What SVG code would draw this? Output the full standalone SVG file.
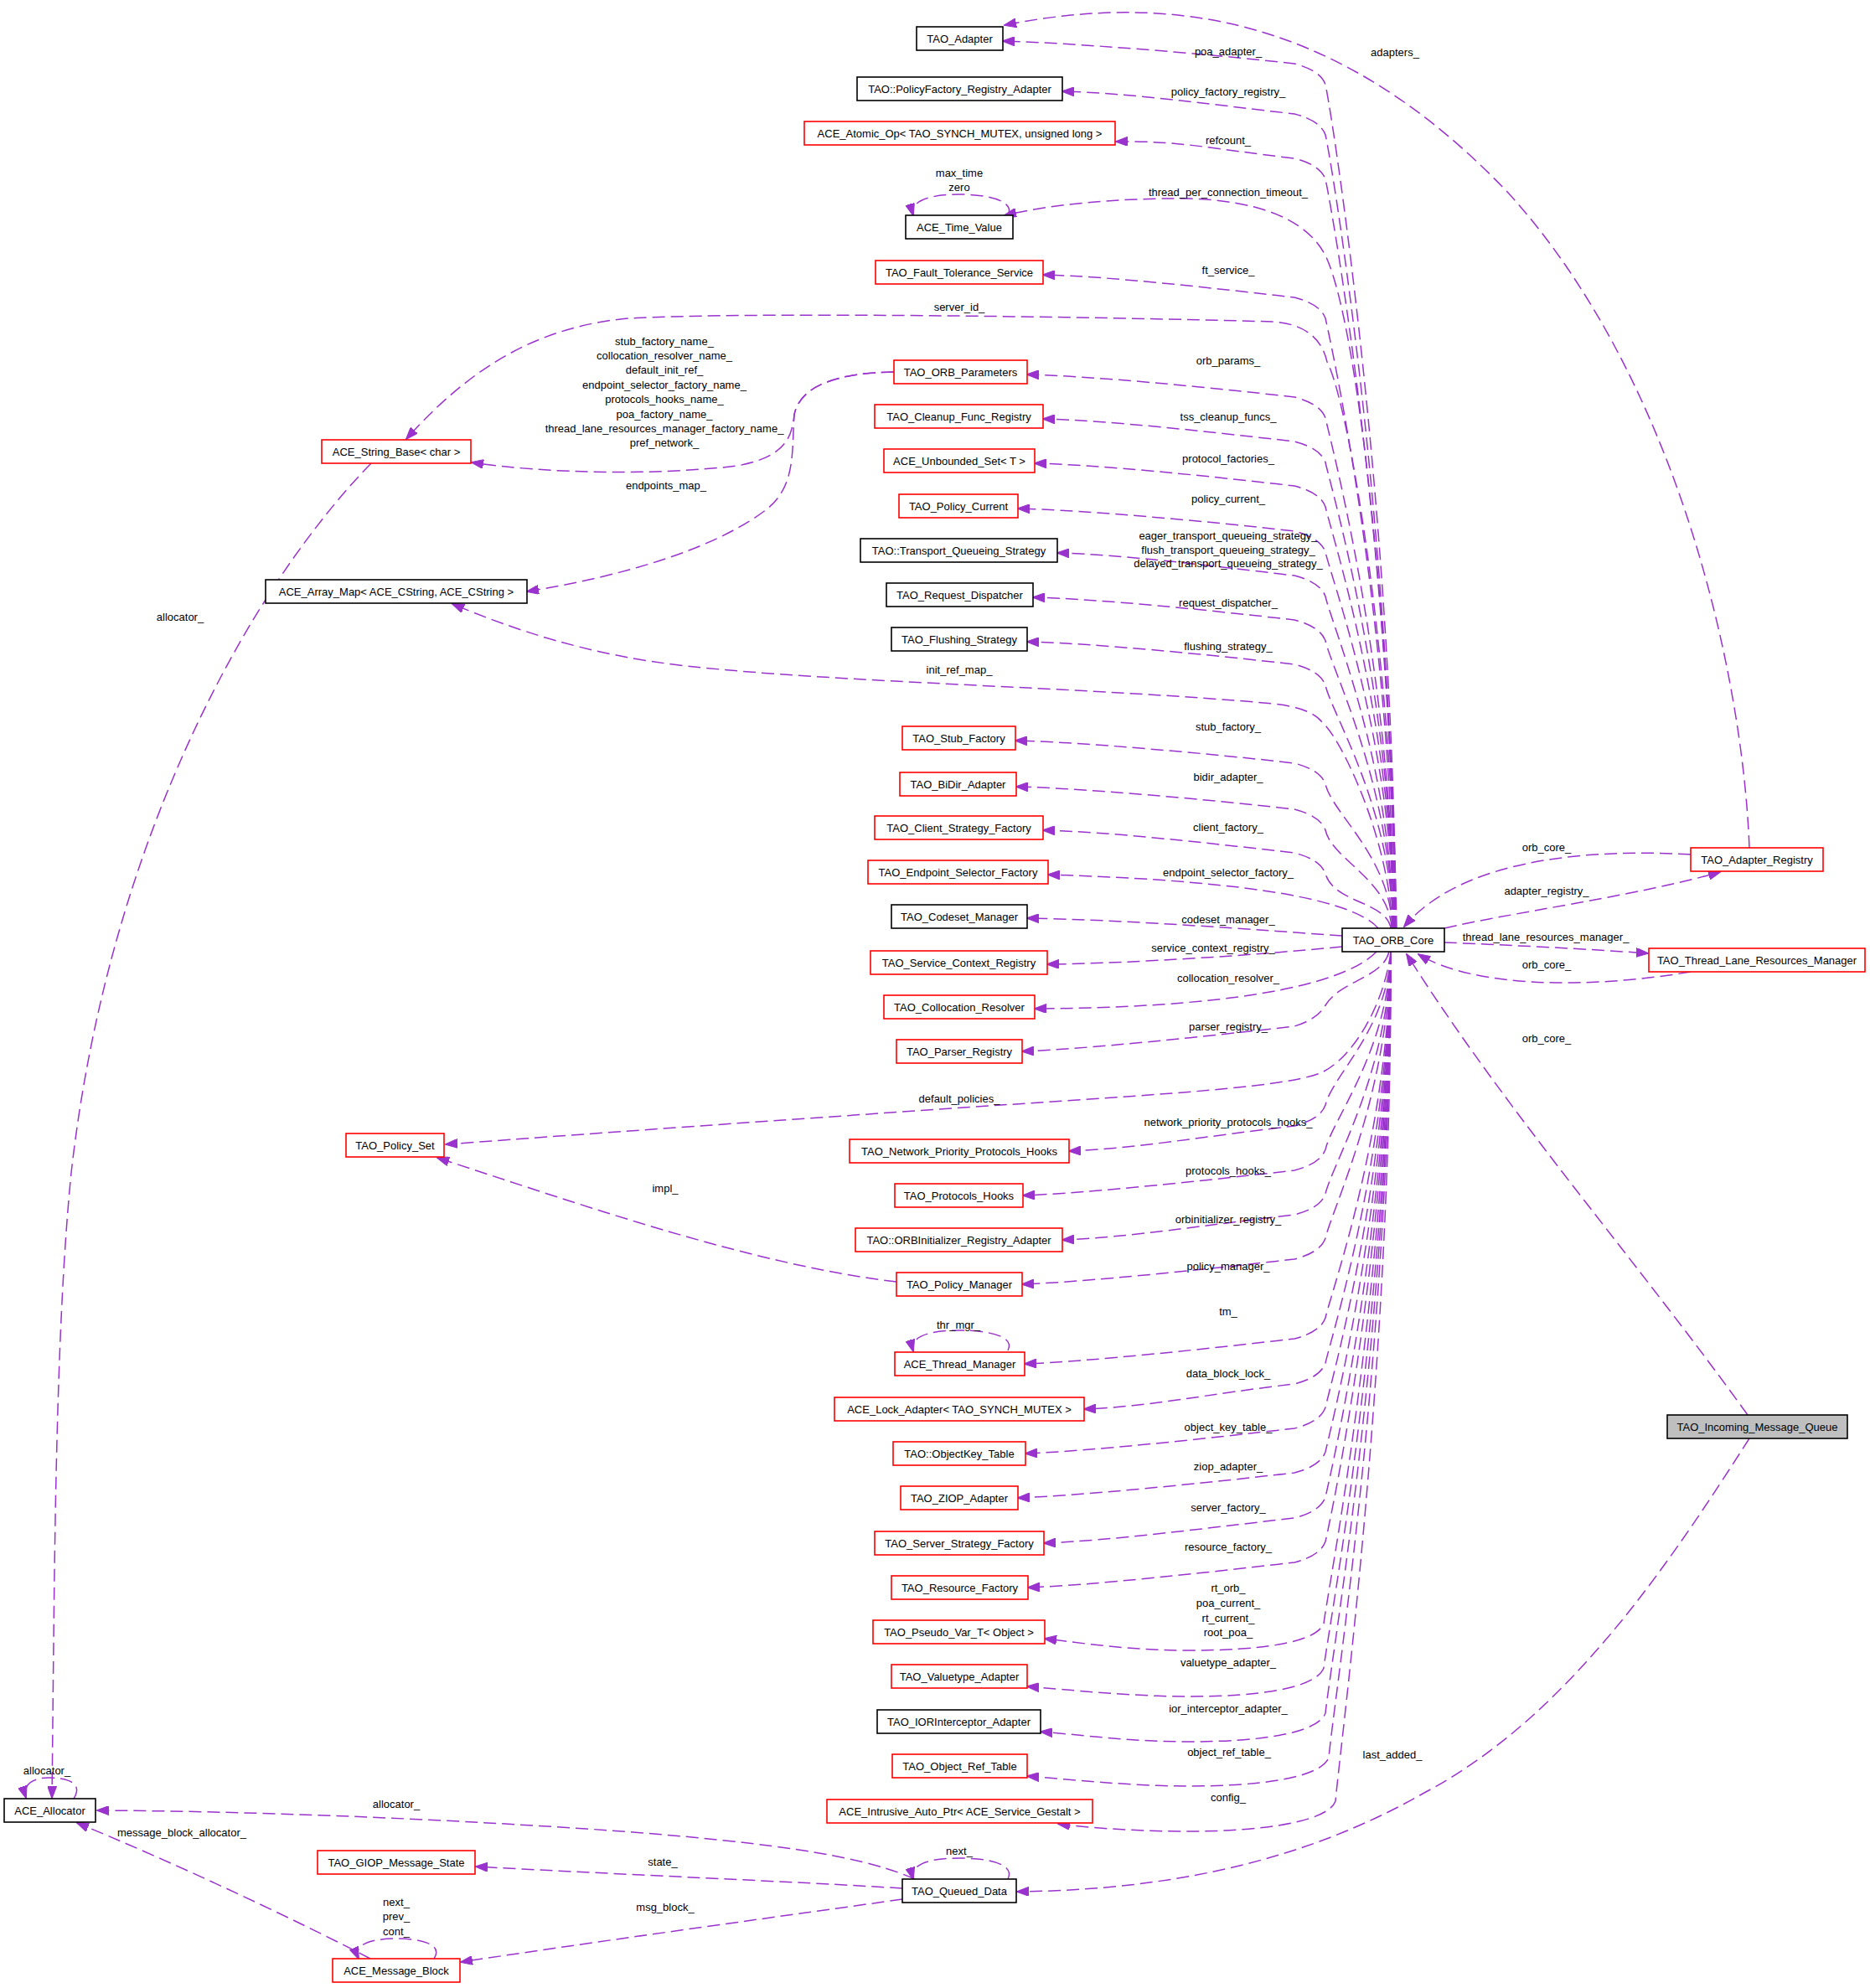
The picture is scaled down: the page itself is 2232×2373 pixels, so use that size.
<svg xmlns="http://www.w3.org/2000/svg" width="2232" height="2373" viewBox="0 0 2232 2373">
<style>
.n rect{fill:#ffffff;stroke-width:1.6}
.r rect{stroke:#ff0000}
.b rect{stroke:#000000}
.g rect{fill:#bfbfbf;stroke:#000000}
text{font-family:"Liberation Sans",Arial,sans-serif;font-size:13px;fill:#000000}
.n text{text-anchor:middle}
.e path{fill:none;stroke:#9a32cd;stroke-width:1.5;stroke-dasharray:15,7;marker-end:url(#ah)}
.e text{text-anchor:middle}
</style>
<defs>
<marker id="ah" markerUnits="userSpaceOnUse" markerWidth="15" markerHeight="11" viewBox="0 0 15 11" refX="14" refY="5.5" orient="auto">
<path d="M0,0 L15,5.5 L0,11 z" fill="#9a32cd" stroke="#9a32cd" stroke-width="1"/>
</marker>
</defs>
<rect width="2232" height="2373" fill="#ffffff"/>
<g id="connectors" class="e">
<path d="M1666,1108 C1663,605 1590,136 1582,101 Q1576,84 1545,76 C1440,64 1277,51 1197,49"/>
<path d="M1665,1108 C1662,635 1590,196 1582,161 Q1576,144 1545,136 C1440,124 1348,111 1268,109"/>
<path d="M1665,1108 C1662,661 1590,249 1582,214 Q1576,197 1545,189 C1440,177 1411,168 1332,169"/>
<path d="M1667,1108 C1662,800 1625,400 1583,307 C1560,260 1500,240 1420,237 C1330,236 1250,245 1199,257"/>
<path d="M1203,257 C1212,240 1180,232 1145,232 C1110,232 1085,240 1090,257"/>
<path d="M1664,1108 C1661,744 1590,415 1582,380 Q1576,363 1545,355 C1440,343 1325,330 1245,328"/>
<path d="M1666,1108 C1663,800 1610,480 1584,432 Q1574,388 1520,384 C1300,378 900,372 750,380 C640,390 560,440 485,524"/>
<path d="M1664,1108 C1661,804 1590,534 1582,499 Q1576,482 1545,474 C1440,462 1306,449 1226,447"/>
<path d="M1067,444 C1000,445 955,460 948,495 C945,520 940,545 880,556 C780,568 650,565 563,552"/>
<path d="M1067,444 C1000,445 955,460 948,495 C945,540 950,580 915,608 C860,650 760,685 629,706"/>
<path d="M1664,1108 C1661,830 1590,587 1582,552 Q1576,535 1545,527 C1440,515 1325,502 1245,500"/>
<path d="M1664,1108 C1661,857 1590,640 1582,605 Q1576,588 1545,580 C1440,568 1315,555 1235,553"/>
<path d="M1664,1108 C1661,884 1590,694 1582,659 Q1576,642 1545,634 C1440,622 1295,609 1215,607"/>
<path d="M1663,1108 C1660,910 1590,747 1582,712 Q1576,695 1545,687 C1440,675 1342,662 1262,660"/>
<path d="M1663,1108 C1660,937 1590,800 1582,765 Q1576,748 1545,740 C1440,728 1313,715 1233,713"/>
<path d="M1663,1108 C1660,963 1590,853 1582,818 Q1576,801 1545,793 C1440,781 1306,768 1226,766"/>
<path d="M1662,1108 C1658,1000 1600,880 1578,862 Q1565,845 1520,840 C1300,820 1000,815 820,795 C700,782 610,750 540,721"/>
<path d="M1662,1108 C1659,1022 1590,971 1582,936 Q1576,919 1545,911 C1440,899 1292,886 1212,884"/>
<path d="M1661,1108 C1658,1050 1590,1026 1582,991 Q1576,974 1545,966 C1440,954 1293,941 1213,939"/>
<path d="M1660,1108 C1655,1076 1592,1078 1582,1043 Q1576,1026 1545,1018 C1440,1006 1325,993 1245,991"/>
<path d="M1645,1108 C1610,1068 1450,1050 1251,1044"/>
<path d="M1602,1117 C1500,1110 1350,1098 1226,1096"/>
<path d="M1602,1130 C1500,1140 1350,1150 1250,1151"/>
<path d="M1643,1136 C1600,1180 1450,1203 1235,1204"/>
<path d="M1658,1136 C1650,1168 1600,1170 1582,1200 Q1572,1217 1545,1225 C1440,1237 1300,1252 1220,1255"/>
<path d="M1660,1136 C1652,1200 1615,1262 1578,1280 C1545,1294 1450,1302 1300,1312 C1000,1332 720,1352 532,1366"/>
<path d="M1070,1530 C900,1510 700,1440 522,1382"/>
<path d="M1660,1136 C1657,1228 1590,1284 1582,1319 Q1576,1336 1545,1344 C1440,1356 1356,1371 1276,1374"/>
<path d="M1660,1136 C1657,1254 1590,1337 1582,1372 Q1576,1389 1545,1397 C1440,1409 1301,1424 1221,1427"/>
<path d="M1660,1136 C1657,1281 1590,1390 1582,1425 Q1576,1442 1545,1450 C1440,1462 1348,1477 1268,1480"/>
<path d="M1660,1136 C1657,1307 1590,1443 1582,1478 Q1576,1495 1545,1503 C1440,1515 1300,1530 1220,1533"/>
<path d="M1660,1136 C1657,1355 1590,1538 1582,1573 Q1576,1590 1545,1598 C1440,1610 1303,1625 1223,1628"/>
<path d="M1203,1612 C1212,1595 1180,1588 1145,1588 C1110,1588 1085,1595 1090,1613"/>
<path d="M1660,1136 C1657,1382 1590,1592 1582,1627 Q1576,1644 1545,1652 C1440,1664 1374,1679 1294,1682"/>
<path d="M1660,1136 C1657,1408 1590,1645 1582,1680 Q1576,1697 1545,1705 C1440,1717 1304,1732 1224,1735"/>
<path d="M1660,1136 C1657,1435 1590,1698 1582,1733 Q1576,1750 1545,1758 C1440,1770 1295,1785 1215,1788"/>
<path d="M1660,1136 C1657,1462 1590,1752 1582,1787 Q1576,1804 1545,1812 C1440,1824 1326,1839 1246,1842"/>
<path d="M1660,1136 C1657,1488 1590,1805 1582,1840 Q1576,1857 1545,1865 C1440,1877 1307,1892 1227,1895"/>
<path d="M1660,1136 C1657,1530 1586,1890 1580,1938 C1570,1962 1500,1970 1419,1970 C1350,1970 1297,1962 1247,1956"/>
<path d="M1660,1136 C1658,1560 1586,1941 1580,1991 C1570,2016 1500,2025 1419,2025 C1350,2025 1276,2017 1226,2013"/>
<path d="M1660,1136 C1659,1580 1588,1985 1582,2045 C1572,2070 1500,2079 1419,2079 C1350,2079 1292,2071 1242,2067"/>
<path d="M1660,1136 C1660,1600 1592,2030 1586,2098 C1576,2123 1500,2132 1419,2132 C1350,2132 1276,2124 1226,2120"/>
<path d="M1660,1136 C1662,1620 1600,2080 1594,2150 C1584,2176 1500,2186 1419,2186 C1360,2186 1300,2182 1263,2177"/>
<path d="M2088,1012 C2080,800 2000,450 1800,230 C1600,20 1400,-10 1199,30"/>
<path d="M2018,1020 C1880,1012 1740,1030 1676,1106"/>
<path d="M1724,1108 C1800,1090 1950,1070 2053,1041"/>
<path d="M1724,1125 C1800,1128 1900,1133 1967,1138"/>
<path d="M2018,1160 C1900,1180 1760,1180 1693,1139"/>
<path d="M2086,1689 C1950,1500 1800,1330 1679,1139"/>
<path d="M2088,1717 C1990,1870 1870,2050 1700,2140 C1560,2220 1400,2256 1214,2258"/>
<path d="M1203,2243 C1212,2225 1180,2218 1145,2218 C1110,2218 1085,2225 1090,2243"/>
<path d="M1092,2243 C1040,2220 950,2200 700,2183 C500,2170 300,2162 116,2161"/>
<path d="M1077,2254 C950,2246 750,2238 568,2228"/>
<path d="M1077,2267 C950,2285 750,2312 550,2342"/>
<path d="M518,2338 C530,2320 500,2314 473,2314 C446,2314 420,2320 428,2338"/>
<path d="M442,2338 C350,2290 200,2220 92,2176"/>
<path d="M443,553 C300,700 130,1000 85,1400 C65,1600 65,1900 62,2146"/>
<path d="M88,2147 C100,2128 80,2122 58,2122 C40,2122 26,2130 31,2146"/>
<text x="1466" y="66">poa_adapter_</text>
<text x="1466" y="114">policy_factory_registry_</text>
<text x="1466" y="172">refcount_</text>
<text x="1466" y="234">thread_per_connection_timeout_</text>
<text x="1466" y="327">ft_service_</text>
<text x="1145" y="371">server_id_</text>
<text x="1665" y="67">adapters_</text>
<text x="1145" y="211">max_time</text>
<text x="1145" y="228">zero</text>
<text x="793" y="412">stub_factory_name_</text>
<text x="793" y="429">collocation_resolver_name_</text>
<text x="793" y="446">default_init_ref_</text>
<text x="793" y="464">endpoint_selector_factory_name_</text>
<text x="793" y="481">protocols_hooks_name_</text>
<text x="793" y="499">poa_factory_name_</text>
<text x="793" y="516">thread_lane_resources_manager_factory_name_</text>
<text x="793" y="533">pref_network_</text>
<text x="795" y="584">endpoints_map_</text>
<text x="1466" y="435">orb_params_</text>
<text x="1466" y="502">tss_cleanup_funcs_</text>
<text x="1466" y="552">protocol_factories_</text>
<text x="1466" y="600">policy_current_</text>
<text x="1466" y="644">eager_transport_queueing_strategy_</text>
<text x="1466" y="661">flush_transport_queueing_strategy_</text>
<text x="1466" y="677">delayed_transport_queueing_strategy_</text>
<text x="1466" y="724">request_dispatcher_</text>
<text x="1466" y="776">flushing_strategy_</text>
<text x="1145" y="804">init_ref_map_</text>
<text x="1466" y="872">stub_factory_</text>
<text x="1466" y="932">bidir_adapter_</text>
<text x="1466" y="992">client_factory_</text>
<text x="1466" y="1046">endpoint_selector_factory_</text>
<text x="1466" y="1102">codeset_manager_</text>
<text x="1448" y="1136">service_context_registry_</text>
<text x="1466" y="1172">collocation_resolver_</text>
<text x="1466" y="1230">parser_registry_</text>
<text x="1145" y="1316">default_policies_</text>
<text x="1466" y="1344">network_priority_protocols_hooks_</text>
<text x="1466" y="1402">protocols_hooks_</text>
<text x="1466" y="1460">orbinitializer_registry_</text>
<text x="1466" y="1516">policy_manager_</text>
<text x="794" y="1423">impl_</text>
<text x="1466" y="1570">tm_</text>
<text x="1144" y="1586">thr_mgr_</text>
<text x="1466" y="1644">data_block_lock_</text>
<text x="1466" y="1708">object_key_table_</text>
<text x="1466" y="1755">ziop_adapter_</text>
<text x="1466" y="1804">server_factory_</text>
<text x="1466" y="1851">resource_factory_</text>
<text x="1466" y="1900">rt_orb_</text>
<text x="1466" y="1918">poa_current_</text>
<text x="1466" y="1936">rt_current_</text>
<text x="1466" y="1953">root_poa_</text>
<text x="1466" y="1989">valuetype_adapter_</text>
<text x="1466" y="2044">ior_interceptor_adapter_</text>
<text x="1467" y="2096">object_ref_table_</text>
<text x="1466" y="2150">config_</text>
<text x="1662" y="2099">last_added_</text>
<text x="1145" y="2214">next_</text>
<text x="1846" y="1016">orb_core_</text>
<text x="1846" y="1068">adapter_registry_</text>
<text x="1845" y="1123">thread_lane_resources_manager_</text>
<text x="1846" y="1156">orb_core_</text>
<text x="1846" y="1244">orb_core_</text>
<text x="215" y="741">allocator_</text>
<text x="56" y="2118">allocator_</text>
<text x="473" y="2158">allocator_</text>
<text x="217" y="2192">message_block_allocator_</text>
<text x="791" y="2227">state_</text>
<text x="794" y="2281">msg_block_</text>
<text x="473" y="2275">next_</text>
<text x="473" y="2292">prev_</text>
<text x="473" y="2310">cont_</text>
</g>
<g id="n1" class="n b"><rect x="1094" y="32" width="103" height="28"/><text x="1145.5" y="50.5">TAO_Adapter</text></g>
<g id="n2" class="n b"><rect x="1023" y="92" width="245" height="28"/><text x="1145.5" y="110.5">TAO::PolicyFactory_Registry_Adapter</text></g>
<g id="n3" class="n r"><rect x="960" y="145" width="371" height="28"/><text x="1145.5" y="163.5">ACE_Atomic_Op&lt; TAO_SYNCH_MUTEX, unsigned long &gt;</text></g>
<g id="n4" class="n b"><rect x="1081" y="257" width="128" height="28"/><text x="1145" y="275.5">ACE_Time_Value</text></g>
<g id="n5" class="n r"><rect x="1045" y="311" width="200" height="28"/><text x="1145" y="329.5">TAO_Fault_Tolerance_Service</text></g>
<g id="n6" class="n r"><rect x="1067" y="430" width="159" height="28"/><text x="1146.5" y="448.5">TAO_ORB_Parameters</text></g>
<g id="n7" class="n r"><rect x="1044" y="483" width="201" height="28"/><text x="1144.5" y="501.5">TAO_Cleanup_Func_Registry</text></g>
<g id="n8" class="n r"><rect x="1055" y="536" width="180" height="28"/><text x="1145" y="554.5">ACE_Unbounded_Set&lt; T &gt;</text></g>
<g id="n9" class="n r"><rect x="1073" y="590" width="142" height="28"/><text x="1144" y="608.5">TAO_Policy_Current</text></g>
<g id="n10" class="n b"><rect x="1027" y="643" width="235" height="28"/><text x="1144.5" y="661.5">TAO::Transport_Queueing_Strategy</text></g>
<g id="n11" class="n b"><rect x="1058" y="696" width="175" height="28"/><text x="1145.5" y="714.5">TAO_Request_Dispatcher</text></g>
<g id="n12" class="n b"><rect x="1064" y="749" width="162" height="28"/><text x="1145" y="767.5">TAO_Flushing_Strategy</text></g>
<g id="n13" class="n r"><rect x="1077" y="867" width="135" height="28"/><text x="1144.5" y="885.5">TAO_Stub_Factory</text></g>
<g id="n14" class="n r"><rect x="1074" y="922" width="139" height="28"/><text x="1143.5" y="940.5">TAO_BiDir_Adapter</text></g>
<g id="n15" class="n r"><rect x="1044" y="974" width="201" height="28"/><text x="1144.5" y="992.5">TAO_Client_Strategy_Factory</text></g>
<g id="n16" class="n r"><rect x="1036" y="1027" width="215" height="28"/><text x="1143.5" y="1045.5">TAO_Endpoint_Selector_Factory</text></g>
<g id="n17" class="n b"><rect x="1064" y="1080" width="162" height="28"/><text x="1145" y="1098.5">TAO_Codeset_Manager</text></g>
<g id="n18" class="n r"><rect x="1039" y="1135" width="211" height="28"/><text x="1144.5" y="1153.5">TAO_Service_Context_Registry</text></g>
<g id="n19" class="n r"><rect x="1055" y="1188" width="180" height="28"/><text x="1145" y="1206.5">TAO_Collocation_Resolver</text></g>
<g id="n20" class="n r"><rect x="1070" y="1241" width="150" height="28"/><text x="1145" y="1259.5">TAO_Parser_Registry</text></g>
<g id="n21" class="n r"><rect x="1014" y="1360" width="262" height="28"/><text x="1145" y="1378.5">TAO_Network_Priority_Protocols_Hooks</text></g>
<g id="n22" class="n r"><rect x="1068" y="1413" width="153" height="28"/><text x="1144.5" y="1431.5">TAO_Protocols_Hooks</text></g>
<g id="n23" class="n r"><rect x="1021" y="1466" width="247" height="28"/><text x="1144.5" y="1484.5">TAO::ORBInitializer_Registry_Adapter</text></g>
<g id="n24" class="n r"><rect x="1070" y="1519" width="150" height="28"/><text x="1145" y="1537.5">TAO_Policy_Manager</text></g>
<g id="n25" class="n r"><rect x="1068" y="1614" width="155" height="28"/><text x="1145.5" y="1632.5">ACE_Thread_Manager</text></g>
<g id="n26" class="n r"><rect x="996" y="1668" width="298" height="28"/><text x="1145" y="1686.5">ACE_Lock_Adapter&lt; TAO_SYNCH_MUTEX &gt;</text></g>
<g id="n27" class="n r"><rect x="1066" y="1721" width="158" height="28"/><text x="1145" y="1739.5">TAO::ObjectKey_Table</text></g>
<g id="n28" class="n r"><rect x="1075" y="1774" width="140" height="28"/><text x="1145" y="1792.5">TAO_ZIOP_Adapter</text></g>
<g id="n29" class="n r"><rect x="1044" y="1828" width="202" height="28"/><text x="1145" y="1846.5">TAO_Server_Strategy_Factory</text></g>
<g id="n30" class="n r"><rect x="1064" y="1881" width="163" height="28"/><text x="1145.5" y="1899.5">TAO_Resource_Factory</text></g>
<g id="n31" class="n r"><rect x="1042" y="1934" width="205" height="28"/><text x="1144.5" y="1952.5">TAO_Pseudo_Var_T&lt; Object &gt;</text></g>
<g id="n32" class="n r"><rect x="1064" y="1987" width="162" height="28"/><text x="1145" y="2005.5">TAO_Valuetype_Adapter</text></g>
<g id="n33" class="n b"><rect x="1047" y="2041" width="195" height="28"/><text x="1144.5" y="2059.5">TAO_IORInterceptor_Adapter</text></g>
<g id="n34" class="n r"><rect x="1065" y="2094" width="161" height="28"/><text x="1145.5" y="2112.5">TAO_Object_Ref_Table</text></g>
<g id="n35" class="n r"><rect x="987" y="2148" width="317" height="28"/><text x="1145.5" y="2166.5">ACE_Intrusive_Auto_Ptr&lt; ACE_Service_Gestalt &gt;</text></g>
<g id="n36" class="n b"><rect x="1077" y="2243" width="136" height="28"/><text x="1145" y="2261.5">TAO_Queued_Data</text></g>
<g id="n37" class="n r"><rect x="384" y="525" width="178" height="28"/><text x="473" y="543.5">ACE_String_Base&lt; char &gt;</text></g>
<g id="n38" class="n b"><rect x="317" y="692" width="312" height="28"/><text x="473" y="710.5">ACE_Array_Map&lt; ACE_CString, ACE_CString &gt;</text></g>
<g id="n39" class="n r"><rect x="413" y="1353" width="117" height="28"/><text x="471.5" y="1371.5">TAO_Policy_Set</text></g>
<g id="n40" class="n b"><rect x="5" y="2147" width="109" height="28"/><text x="59.5" y="2165.5">ACE_Allocator</text></g>
<g id="n41" class="n r"><rect x="379" y="2209" width="188" height="28"/><text x="473" y="2227.5">TAO_GIOP_Message_State</text></g>
<g id="n42" class="n r"><rect x="397" y="2338" width="152" height="28"/><text x="473" y="2356.5">ACE_Message_Block</text></g>
<g id="n43" class="n b"><rect x="1602" y="1108" width="122" height="28"/><text x="1663" y="1126.5">TAO_ORB_Core</text></g>
<g id="n44" class="n r"><rect x="2018" y="1012" width="158" height="28"/><text x="2097" y="1030.5">TAO_Adapter_Registry</text></g>
<g id="n45" class="n r"><rect x="1968" y="1132" width="258" height="28"/><text x="2097" y="1150.5">TAO_Thread_Lane_Resources_Manager</text></g>
<g id="n46" class="n g"><rect x="1990" y="1689" width="215" height="28"/><text x="2097.5" y="1707.5">TAO_Incoming_Message_Queue</text></g>
</svg>
